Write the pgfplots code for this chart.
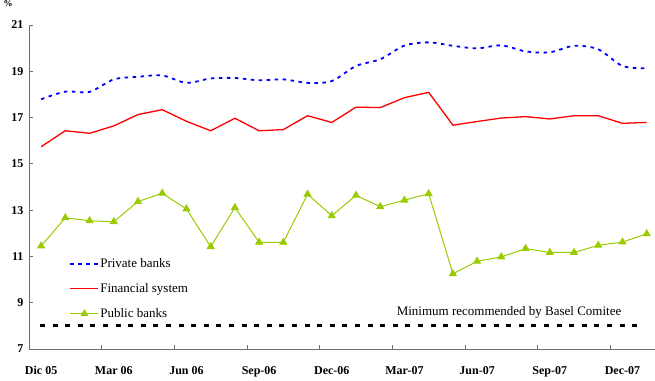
\documentclass[border=0pt]{standalone}
\usepackage{fontspec}
\setmainfont{Liberation Serif}
\usepackage{pgfplots}
\usepackage{pgfplotstable}
\pgfplotsset{compat=1.18}
\definecolor{pubgreen}{RGB}{153,204,0}
\definecolor{axgray}{RGB}{110,110,110}

\pgfplotstableread{
i  priv   fin    pub
0  17.79  15.74  11.45
1  18.12  16.43  12.67
2  18.11  16.32  12.54
3  18.65  16.64  12.50
4  18.76  17.13  13.37
5  18.82  17.34  13.73
6  18.50  16.84  13.05
7  18.69  16.43  11.42
8  18.71  16.97  13.11
9  18.61  16.43  11.61
10 18.65  16.48  11.61
11 18.50  17.08  13.69
12 18.58  16.79  12.76
13 19.23  17.45  13.64
14 19.52  17.43  13.15
15 20.11  17.86  13.43
16 20.25  18.09  13.71
17 20.10  16.67  10.25
18 19.99  16.83  10.79
19 20.12  16.98  10.98
20 19.86  17.04  11.34
21 19.82  16.94  11.17
22 20.10  17.08  11.17
23 19.95  17.08  11.48
24 19.23  16.75  11.62
25 19.13  16.79  11.98
}\datatable

\begin{document}
\begin{tikzpicture}[x=1pt,y=1pt]
\begin{axis}[
  at={(29pt,31pt)}, anchor=south west,
  scale only axis, width=629.8pt, height=324pt,
  xmin=-0.5, xmax=25.5, ymin=7, ymax=21,
  axis x line=bottom, axis y line=left,
  axis line style={-, axgray, line width=1pt},
  xtick={0,3,...,24},
  xticklabels={Dic 05, Mar 06, Jun 06, Sep-06, Dec-06, Mar-07, Jun-07, Sep-07, Dec-07},
  minor xtick={2.5,5.5,...,23.5},
  ytick={7,9,...,21},
  tick align=inside,
  major x tick style={draw=none},
  major tick length=4pt, minor tick length=4pt,
  tick style={axgray, line width=0.8pt},
  ticklabel style={font=\fontsize{12}{14}\selectfont\bfseries},
  /pgf/number format/assume math mode=true,
  xticklabel style={yshift=-14pt},
  yticklabel style={xshift=-2pt},
  clip=false,
  legend style={at={(0.064,0.283)}, anchor=north west, draw=none, fill=none,
    font=\fontsize{13}{15}\selectfont, row sep=12.5pt, inner sep=0pt,
    nodes={inner sep=1pt}},
  legend cell align=left,
  legend image code/.code={\draw[mark repeat=2,mark phase=2,#1] plot coordinates {(0pt,0pt) (14pt,0pt) (28pt,0pt)};},
]
\addlegendimage{blue, line width=1.8pt, dash pattern=on 3.5pt off 4.5pt}
\addlegendentry{Private banks}
\addlegendimage{red, line width=1.3pt}
\addlegendentry{Financial system}
\addlegendimage{pubgreen, line width=1pt, mark=triangle*, mark size=3.8pt, mark options={fill=pubgreen, draw=pubgreen}}
\addlegendentry{Public banks}
\addplot[blue, line width=1.8pt, dash pattern=on 3.5pt off 4.5pt, smooth, tension=0.5, forget plot] table[x=i, y=priv] {\datatable};
\addplot[red, line width=1.3pt, forget plot] table[x=i, y=fin] {\datatable};
\addplot[pubgreen, line width=1pt, mark=triangle*, mark size=3.8pt, mark options={fill=pubgreen, draw=pubgreen}, forget plot] table[x=i, y=pub] {\datatable};
\addplot[black, line width=3pt, dash pattern=on 5pt off 7.6pt, forget plot] coordinates {(-0.05,8) (24.73,8)};
\node[anchor=east, font=\fontsize{13}{15}\selectfont] at (axis cs:24.1,8.6) {Minimum recommended by Basel Comitee};
\end{axis}
\pgfresetboundingbox
\path[use as bounding box] (0,0) rectangle (655,380);
\node[anchor=north, font=\fontsize{9}{10}\selectfont\bfseries, inner sep=0.5pt] at (8,380) {\%};
\end{tikzpicture}
\end{document}
